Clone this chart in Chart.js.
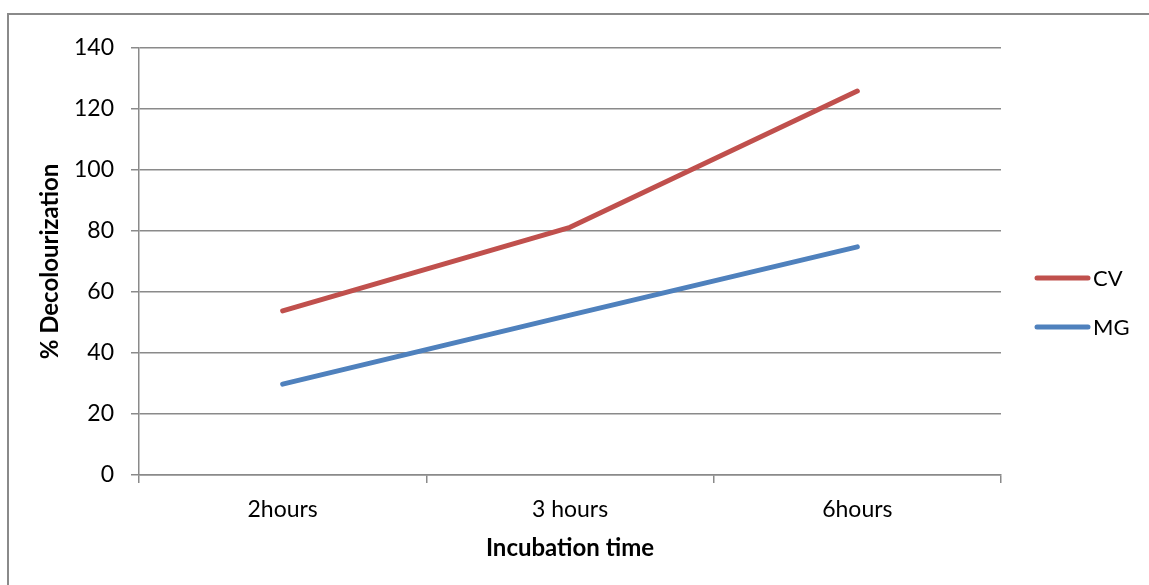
<!DOCTYPE html>
<html>
<head>
<meta charset="utf-8">
<script src="https://cdn.jsdelivr.net/npm/chart.js@4/dist/chart.umd.min.js"></script>
<style>
  html, body { margin: 0; padding: 0; background: #fff; }
  body { width: 1149px; height: 585px; position: relative; overflow: hidden; }
  .frame { position: absolute; left: 7px; top: 13px; width: 1300px; height: 700px;
           border-top: 2px solid #8a8a8a; border-left: 2px solid #8a8a8a; }
  #wrap { position: absolute; left: 0; top: 0; width: 1149px; height: 585px; }
</style>
</head>
<body>
<div class="frame"></div>
<div id="wrap"><canvas id="chart" width="1149" height="585"></canvas></div>
<script>
const categories = ['2hours', '3 hours', '6hours'];
const cvValues = [53.8, 81.2, 125.9];
const mgValues = [29.8, 52.4, 74.8];
const seriesNames = ['CV', 'MG'];
const seriesColors = ['#C0504D', '#4F81BD'];

const FONT = 'Lato, "Open Sans", sans-serif';
const GRID = '#8a8a8a';

// legend drawn to the right of the plot, like the Excel one
const sideLegend = {
  id: 'sideLegend',
  afterDraw(chart) {
    const ctx = chart.ctx;
    const rows = [278, 327];
    ctx.save();
    chart.data.datasets.forEach((ds, i) => {
      const y = rows[i];
      ctx.strokeStyle = ds.borderColor;
      ctx.lineWidth = 5;
      ctx.lineCap = 'round';
      ctx.beginPath();
      ctx.moveTo(1037, y);
      ctx.lineTo(1088, y);
      ctx.stroke();
      ctx.fillStyle = '#000';
      ctx.font = '22px ' + FONT;
      ctx.textBaseline = 'middle';
      ctx.textAlign = 'left';
      ctx.fillText(ds.label, 1093, y + 1);
    });
    ctx.restore();
  }
};

new Chart(document.getElementById('chart'), {
  type: 'line',
  data: {
    labels: categories,
    datasets: [
      { label: seriesNames[0], data: cvValues, borderColor: seriesColors[0], backgroundColor: seriesColors[0] },
      { label: seriesNames[1], data: mgValues, borderColor: seriesColors[1], backgroundColor: seriesColors[1] }
    ]
  },
  options: {
    responsive: false,
    animation: false,
    layout: { padding: { top: 48, right: 148, left: 0, bottom: 0 } },
    elements: {
      line: { borderWidth: 5, tension: 0, borderCapStyle: 'round', borderJoinStyle: 'round' },
      point: { radius: 0, hoverRadius: 0 }
    },
    plugins: {
      legend: { display: false },
      tooltip: { enabled: false }
    },
    scales: {
      x: {
        offset: true,
        afterFit(scale) { scale.height = 110; },
        grid: { offset: true, drawOnChartArea: false, drawTicks: true, tickLength: 8, color: GRID, lineWidth: 1.5 },
        border: { display: true, color: GRID, width: 1.5 },
        ticks: { color: '#000', font: { family: FONT, size: 23 }, padding: 13, maxRotation: 0 },
        title: { display: true, text: 'Incubation time', color: '#000',
                 font: { family: FONT, size: 24, weight: 'bold' }, padding: { top: 0, bottom: 22 } }
      },
      y: {
        min: 0, max: 140,
        afterFit(scale) { scale.width = 139; },
        ticks: { stepSize: 20, color: '#000', font: { family: FONT, size: 23 }, padding: 17 },
        grid: { color: GRID, lineWidth: 1.5, drawTicks: true, tickLength: 8 },
        border: { display: true, color: GRID, width: 1.5 },
        title: { display: true, text: '% Decolourization', color: '#000',
                 font: { family: FONT, size: 24, weight: 'bold' }, padding: { top: 36, bottom: 0 } }
      }
    }
  },
  plugins: [sideLegend]
});
</script>
</body>
</html>
